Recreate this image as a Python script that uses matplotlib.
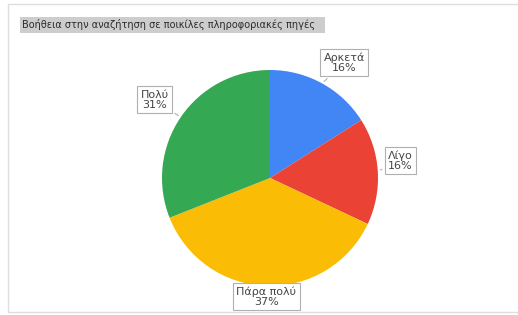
import numpy as np
import matplotlib.pyplot as plt
from matplotlib.patches import Rectangle

# data
labels = ['Αρκετά', 'Λίγο', 'Πάρα πολύ', 'Πολύ']
values = [16, 16, 37, 31]
colors = ['#4285F4', '#EA4335', '#FBBC05', '#34A853']
title = 'Βοήθεια στην αναζήτηση σε ποικίλες πληροφοριακές πηγές'

W, H = 518, 315
fig = plt.figure(figsize=(W / 100, H / 100), dpi=100)
ax = fig.add_axes([0, 0, 1, 1])

# frame and title strip
ax.add_patch(Rectangle((8, 3), W, H - 7, fill=False, ec='#dedede', lw=1))
ax.add_patch(Rectangle((20, H - 33), 305, 16, fc='#cdcdcd', ec='none'))
ax.text(22, H - 25, title, fontsize=7.0, color='#2b2b2b', va='center', ha='left')

cx, cy, R = 270, H - 178, 108
wedges, _ = ax.pie(values, colors=colors, startangle=90, counterclock=False,
                   center=(cx, cy), radius=R, frame=True)
ax.set_xlim(0, W)
ax.set_ylim(0, H)
ax.axis('off')

# label distance (in radii) and small angle nudge per label
dist = [1.27, 1.22, 1.10, 1.29]
nudge = [-4, 4, 0, 0]
for w, lab, v, d, n in zip(wedges, labels, values, dist, nudge):
    a = np.deg2rad((w.theta1 + w.theta2) / 2)
    ex, ey = cx + R * np.cos(a), cy + R * np.sin(a)
    a2 = a + np.deg2rad(n)
    tx, ty = cx + d * R * np.cos(a2), cy + d * R * np.sin(a2)
    ax.annotate('%s\n%d%%' % (lab, v), xy=(ex, ey), xytext=(tx, ty),
                ha='center', va='center', fontsize=8, color='#444444',
                linespacing=1.0,
                bbox=dict(boxstyle='square,pad=0.3', fc='white', ec='#b0b0b0', lw=0.8),
                arrowprops=dict(arrowstyle='-', color='#b0b0b0', lw=0.8))

fig.savefig('out.png', dpi=100)
